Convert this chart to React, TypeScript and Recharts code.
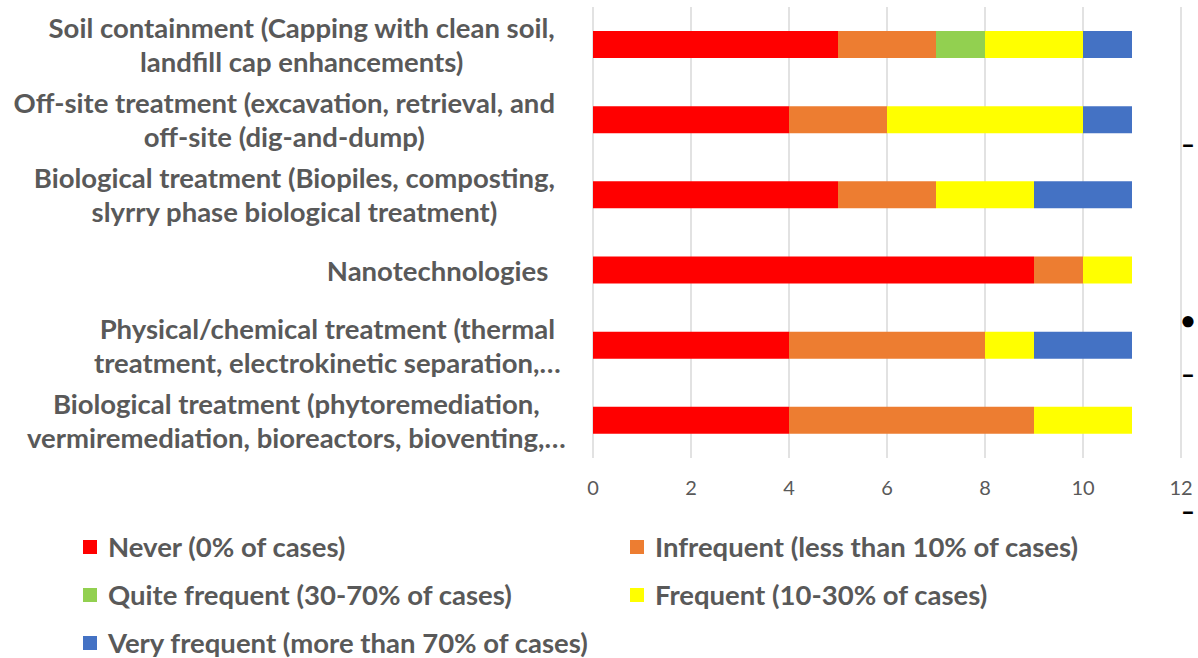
import { BarChart, Bar, XAxis, YAxis, CartesianGrid, Legend } from 'recharts'

// category labels, one entry per bar, lines split where the original wraps
const categories = [
  'Soil containment (Capping with clean soil,\nlandfill cap enhancements)',
  'Off-site treatment (excavation, retrieval, and\noff-site (dig-and-dump)',
  'Biological treatment (Biopiles, composting,\nslyrry phase biological treatment)',
  'Nanotechnologies ',
  'Physical/chemical treatment (thermal\ntreatment, electrokinetic separation,…',
  'Biological treatment (phytoremediation,\nvermiremediation, bioreactors, bioventing,…',
]

const never = [5, 4, 5, 9, 4, 4]
const infrequent = [2, 2, 2, 1, 4, 5]
const quiteFrequent = [1, 0, 0, 0, 0, 0]
const frequent = [2, 4, 2, 1, 1, 2]
const veryFrequent = [1, 1, 2, 0, 2, 0]

const xTicks = [0, 2, 4, 6, 8, 10, 12]

const series = [
  { key: 'never', name: 'Never (0% of cases)', color: '#FF0000', values: never },
  { key: 'infrequent', name: 'Infrequent (less than 10% of cases)', color: '#ED7D31', values: infrequent },
  { key: 'quite', name: 'Quite frequent (30-70% of cases)', color: '#92D050', values: quiteFrequent },
  { key: 'frequent', name: 'Frequent (10-30% of cases)', color: '#FFFF00', values: frequent },
  { key: 'very', name: 'Very frequent (more than 70% of cases)', color: '#4472C4', values: veryFrequent },
]

const data = categories.map((name, i) => {
  const row: Record<string, string | number> = { name }
  series.forEach(s => { row[s.key] = s.values[i] })
  return row
})

const FONT = 'Lato, "Open Sans", sans-serif'
const LABEL_SIZE = 27.5
const TEXT = '#595959'

let ctx: CanvasRenderingContext2D | null = null
function measure(t: string) {
  if (!ctx) ctx = document.createElement('canvas').getContext('2d')
  if (!ctx) return t.length * LABEL_SIZE * 0.5
  ctx.font = `bold ${LABEL_SIZE}px Lato`
  return ctx.measureText(t).width
}

function CategoryTick({ x, y, payload }: any) {
  const lines: string[] = String(payload.value).split('\n')
  // Excel-like wrap block: lines centered in a block right-aligned near the axis,
  // the truncated line (with …) spills over
  const blockW = Math.max(...lines.map(l => measure(l.replace(/…$/, ''))))
  const right = x - 30
  const cx = right - blockW / 2
  const lh = 34
  const top = y - ((lines.length - 1) * lh) / 2
  return (
    <text textAnchor="middle" fill={TEXT} fontFamily={FONT} fontWeight="bold" fontSize={LABEL_SIZE} style={{ whiteSpace: 'pre' }}>
      {lines.map((l, i) => (
        <tspan key={i} x={cx} y={top + i * lh} dominantBaseline="central">{l}</tspan>
      ))}
    </text>
  )
}

function LegendBox() {
  return (
    <div style={{ display: 'grid', gridTemplateColumns: '547px 500px', rowGap: 21, paddingLeft: 83, fontFamily: FONT, fontWeight: 'bold', fontSize: LABEL_SIZE, color: TEXT }}>
      {series.map(s => (
        <div key={s.key} style={{ display: 'flex', alignItems: 'center', height: 27 }}>
          <span style={{ width: 14, height: 14, background: s.color, marginRight: 11, flex: 'none' }} />
          <span style={{ whiteSpace: 'nowrap' }}>{s.name}</span>
        </div>
      ))}
    </div>
  )
}

// cropped list markers at the right edge of the original image
const stray = [
  { t: '–', top: 129 },
  { t: '•', top: 305 },
  { t: '–', top: 359 },
  { t: '–', top: 496 },
]

export default function App() {
  return (
    <div style={{ position: 'absolute', left: 0, top: 0, width: 1198, height: 658, background: '#fff' }}>
      <BarChart
        width={1198}
        height={658}
        data={data}
        layout="vertical"
        barSize={27}
        margin={{ top: 7, right: 17, left: 0, bottom: 148 }}
      >
        <CartesianGrid horizontal={false} stroke="#d9d9d9" strokeWidth={1.5} />
        <XAxis
          type="number"
          domain={[0, 12]}
          ticks={xTicks}
          axisLine={false}
          tickLine={false}
          height={52}
          tickMargin={17}
          tick={{ fill: TEXT, fontSize: 20, fontFamily: FONT }}
        />
        <YAxis
          type="category"
          dataKey="name"
          width={593}
          axisLine={false}
          tickLine={false}
          interval={0}
          tick={<CategoryTick />}
        />
        <Legend
          layout="horizontal"
          align="center"
          verticalAlign="middle"
          wrapperStyle={{ top: 533, left: 0, width: 1198 }}
          content={<LegendBox />}
        />
        {series.map(s => (
          <Bar key={s.key} dataKey={s.key} name={s.name} stackId="a" fill={s.color} isAnimationActive={false} />
        ))}
      </BarChart>
      {stray.map((m, i) => (
        <span key={i} style={{ position: 'absolute', left: 1181, top: m.top, fontFamily: FONT, fontWeight: 900, fontSize: 24, color: '#000' }}>{m.t}</span>
      ))}
    </div>
  )
}
